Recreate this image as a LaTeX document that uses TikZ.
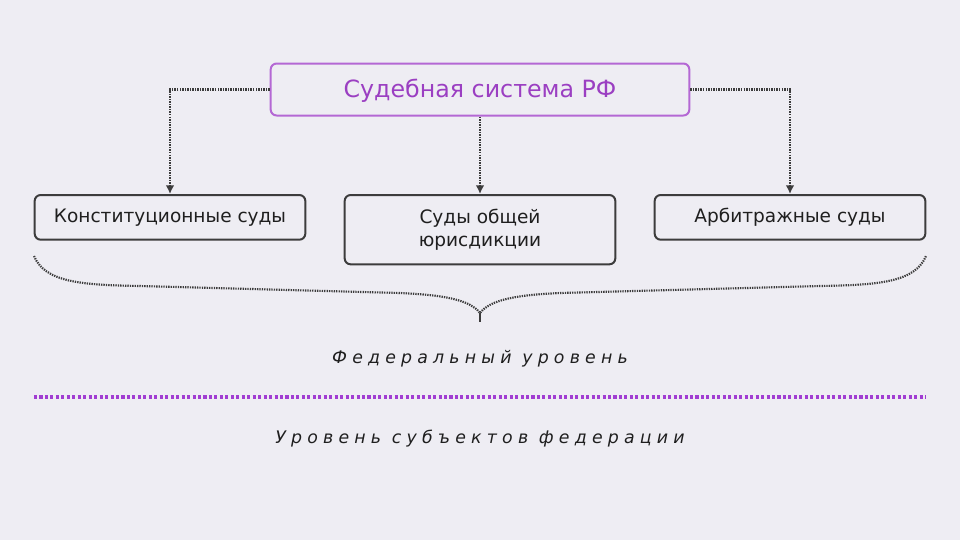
\documentclass[tikz,border=0pt]{standalone}
\usepackage{fontspec}
\setmainfont{DejaVu Sans}
\newfontfamily\levelfont[LetterSpace=30]{DejaVu Sans}
\usetikzlibrary{positioning}
\usetikzlibrary{arrows.meta}
\definecolor{rf-bg}{HTML}{EEEDF3}
\definecolor{rf-purple}{HTML}{9B3FC2}
\definecolor{rf-border}{HTML}{B468D4}
\definecolor{rf-line}{HTML}{A13DD2}
\definecolor{rf-gray}{HTML}{3C3C3C}

\begin{document}
\begin{tikzpicture}[x=.75pt, y=-.75pt,
  court/.style={draw=rf-gray, line width=1.5pt, rounded corners=4.5pt, align=center,
    minimum width=203pt, anchor=north, font=\fontsize{13.9}{17.3}\selectfont, text=black!88},
  link/.style={draw=rf-gray, line width=1.8pt, dash pattern=on 1.1pt off .8pt, -{Latex[length=6.5pt,width=6.5pt]}},
  level/.style={font=\levelfont\itshape\fontsize{13}{15}\selectfont, text=black!88}]
\fill[rf-bg] (0,0) rectangle (960,540);
\useasboundingbox (0,0) rectangle (960,540);
\node[draw=rf-border, line width=1.5pt, rounded corners=4.5pt, minimum width=314pt, minimum height=39pt,
  text=rf-purple, font=\fontsize{17.8}{21}\selectfont, text depth=2pt]
  (rf)
  at (480, 89.5)
  {Судебная система РФ};
\foreach \x/\name/\h/\phrase in {
    170/konst/33.5/Конституционные суды,
    480/obsch/52/Суды общей\\юрисдикции,
    790/arbitr/33.5/Арбитражные суды} {
  \node[court, minimum height=\h pt]
    (\name)
    at (\x, 194)
    {\phrase};
}
\draw[link] (rf.west) -| (konst.north);
\draw[link] (rf.south) -- (obsch.north);
\draw[link] (rf.east) -| (arbitr.north);
% brace under the federal courts
\coordinate (brace-l) at (34, 256);
\coordinate (brace-tip) at (480, 313);
\coordinate (brace-r) at (926, 256);
\draw[rf-gray, line width=1.6pt, dash pattern=on 1pt off .8pt]
  (brace-l) .. controls (45, 282) and (80, 285) .. (140, 286) -- (400, 293)
  .. controls (445, 295) and (470, 300) .. (brace-tip)
  .. controls (490, 300) and (515, 295) .. (560, 293) -- (820, 286)
  .. controls (880, 285) and (915, 282) .. (brace-r);
\draw[rf-gray, line width=1.5pt] (brace-tip) -- ++(0, 9);
\node[level] (federal) at (480, 358.5) {Федеральный уровень};
\coordinate (split-l) at (34, 397);
\coordinate (split-r) at (926, 397);
\draw[rf-line, line width=2.6pt, dash pattern=on 2.3pt off 1.8pt] (split-l) -- (split-r);
\node[level] (regional) at (480, 438.5) {Уровень субъектов федерации};
\end{tikzpicture}
\end{document}
